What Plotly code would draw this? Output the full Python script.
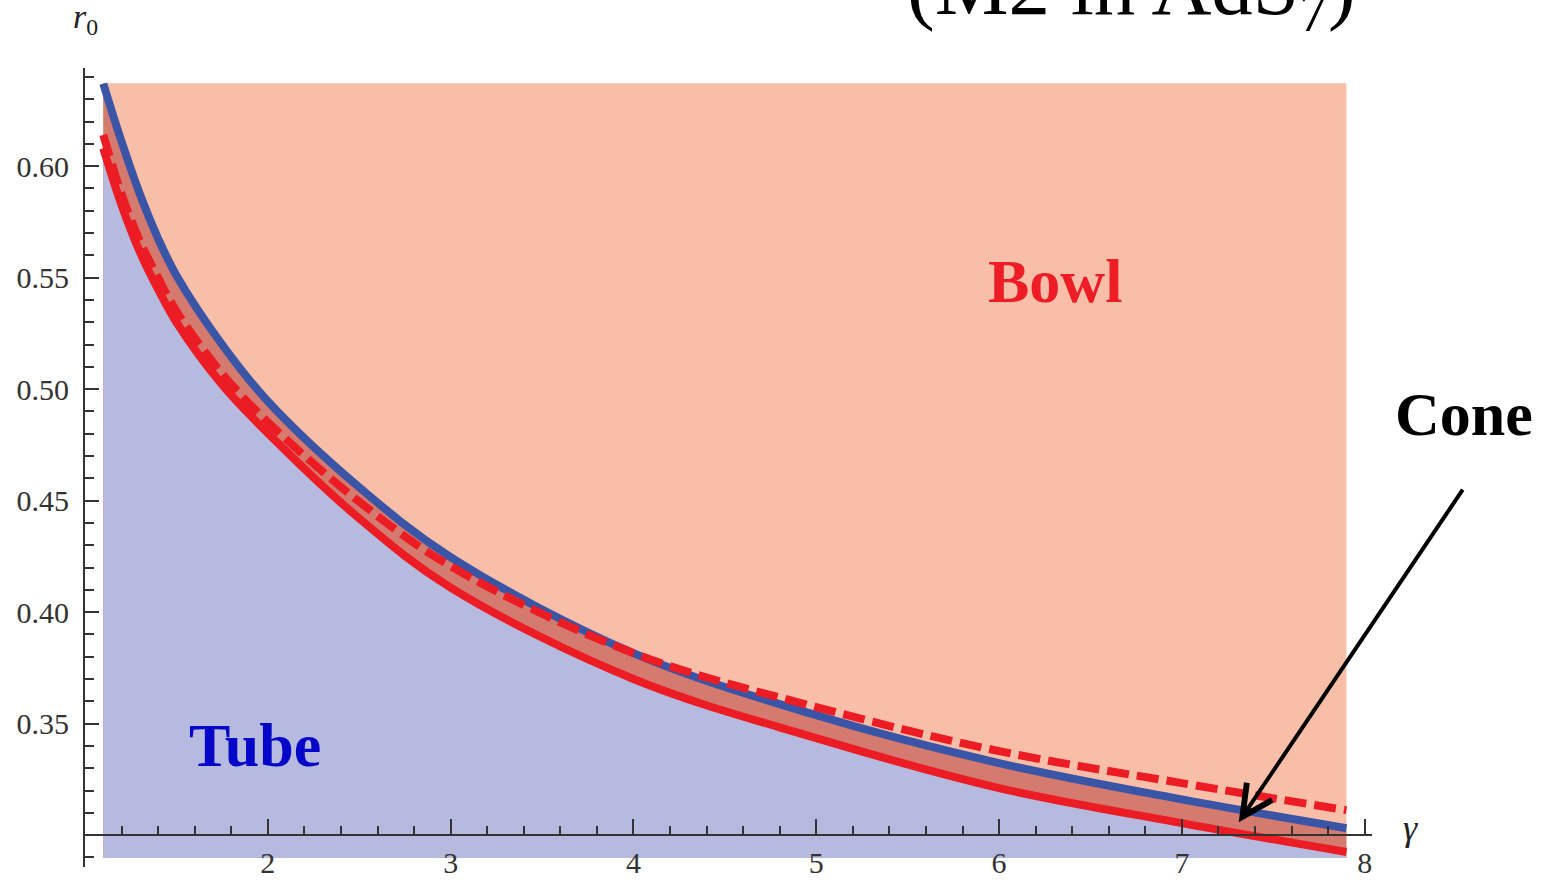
import plotly.graph_objects as go

# ---- data ----
gamma = [1.1, 1.2, 1.3, 1.4, 1.5, 1.75, 2.0, 2.5, 3.0, 4.0, 5.0, 6.0, 7.0, 7.9]
r_blue = [0.637, 0.611, 0.5875, 0.5675, 0.551, 0.520, 0.4946, 0.456, 0.4247, 0.3816, 0.3538, 0.3323, 0.3160, 0.3031]
r_red = [0.608, 0.5825, 0.5615, 0.5447, 0.530, 0.502, 0.4803, 0.442, 0.411, 0.3700, 0.3435, 0.3211, 0.3054, 0.2924]
r_red_dashed = [0.614, 0.5875, 0.5665, 0.550, 0.535, 0.507, 0.4852, 0.4495, 0.4206, 0.3816, 0.3574, 0.3377, 0.3233, 0.3112]

region_gamma = [1.1, 7.9]
region_r = [0.2897, 0.6372]

x_major = [2, 3, 4, 5, 6, 7, 8]
y_major = [0.35, 0.40, 0.45, 0.50, 0.55, 0.60]
y_labels = ["0.35", "0.40", "0.45", "0.50", "0.55", "0.60"]

x_range = [1.0, 8.04]
y_range = [0.2857, 0.644]
x_axis_at = 0.30

# ---- colours ----
c_bowl = "#f9bea8"
c_cone = "#d57a6e"
c_tube = "#b6badf"
c_blue = "#3a54a6"
c_red = "#ec1c24"

fig = go.Figure()

g0, g1 = region_gamma
b0, b1 = region_r

# bowl background rectangle
fig.add_trace(go.Scatter(x=[g0, g1, g1, g0, g0], y=[b0, b0, b1, b1, b0], fill="toself",
                         fillcolor=c_bowl, mode="lines", line=dict(width=0), hoverinfo="skip"))
# cone: below blue
fig.add_trace(go.Scatter(x=[g0, g1], y=[b0, b0], mode="lines", line=dict(width=0), hoverinfo="skip"))
fig.add_trace(go.Scatter(x=gamma, y=r_blue, mode="lines", fill="tonexty", fillcolor=c_cone,
                         line=dict(width=0, shape="spline"), hoverinfo="skip"))
# tube: below red
fig.add_trace(go.Scatter(x=[g0, g1], y=[b0, b0], mode="lines", line=dict(width=0), hoverinfo="skip"))
fig.add_trace(go.Scatter(x=gamma, y=r_red, mode="lines", fill="tonexty", fillcolor=c_tube,
                         line=dict(width=0, shape="spline"), hoverinfo="skip"))
# curves
fig.add_trace(go.Scatter(x=gamma, y=r_red, mode="lines",
                         line=dict(color=c_red, width=8, shape="spline"), hoverinfo="skip"))
fig.add_trace(go.Scatter(x=gamma, y=r_blue, mode="lines",
                         line=dict(color=c_blue, width=8, shape="spline"), hoverinfo="skip"))
fig.add_trace(go.Scatter(x=gamma, y=r_red_dashed, mode="lines",
                         line=dict(color=c_red, width=8, shape="spline", dash="22px,8px"), hoverinfo="skip"))

pos_x_axis = (x_axis_at - y_range[0]) / (y_range[1] - y_range[0])
tick_font = dict(family="Liberation Serif", size=30, color="#333333")
label_font = dict(family="Liberation Serif", size=62)

fig.update_layout(
    width=1544, height=881,
    margin=dict(l=85, r=172, t=68, b=14),
    plot_bgcolor="white", paper_bgcolor="white",
    showlegend=False,
    xaxis=dict(range=x_range, anchor="free", position=pos_x_axis, automargin=False,
               showgrid=False, zeroline=False, showline=True, linecolor="#333333", linewidth=2,
               tickmode="array", tickvals=x_major, ticktext=[str(v) for v in x_major],
               ticks="inside", ticklen=15, tickwidth=2, tickcolor="#333333",
               tickfont=tick_font, ticklabelstandoff=1,
               minor=dict(tickmode="linear", tick0=1.0, dtick=0.2, ticks="inside",
                          ticklen=8, tickwidth=2, tickcolor="#333333")),
    yaxis=dict(range=y_range, automargin=False, showgrid=False, zeroline=False, showline=True,
               linecolor="#333333", linewidth=2,
               tickmode="array", tickvals=y_major, ticktext=y_labels,
               ticks="inside", ticklen=14, tickwidth=2, tickcolor="#333333",
               tickfont=tick_font, ticklabelstandoff=8,
               minor=dict(tickmode="linear", tick0=0.0, dtick=0.01, ticks="inside",
                          ticklen=9, tickwidth=2, tickcolor="#333333")),
)

annotations = [
    dict(text="<b>Bowl</b>", x=6.306, y=0.5484, xref="x", yref="y", showarrow=False,
         font=dict(color="#ee1c25", **label_font)),
    dict(text="<b>Tube</b>", x=1.929, y=0.3404, xref="x", yref="y", showarrow=False,
         font=dict(color="#0606c8", **label_font)),
    dict(text="<b>Cone</b>", x=1.1267, y=0.567, xref="paper", yref="paper", xanchor="right",
         showarrow=False, font=dict(color="black", **label_font)),
    dict(text="", x=7.311, y=0.3058, xref="x", yref="y", showarrow=True,
         ax=225, ay=-334, axref="pixel", ayref="pixel",
         arrowhead=5, arrowsize=1.5, arrowwidth=4, arrowcolor="black"),
    dict(text="(M2 in AdS<sub>7</sub>)", x=0.8135, y=1.0275, xref="paper", yref="paper",
         xanchor="center", yanchor="bottom", showarrow=False,
         font=dict(family="Liberation Serif", size=83, color="black")),
    dict(text="<i>r</i><sub>0</sub>", x=-0.011, y=1.09, xref="paper", yref="paper",
         showarrow=False, font=dict(family="Liberation Serif", size=34, color="#222222")),
    dict(text="<i>γ</i>", x=1.0373, y=0.0213, xref="paper", yref="paper",
         showarrow=False, font=dict(family="Liberation Serif", size=36, color="#222222")),
]
fig.update_layout(annotations=annotations)

fig.write_html("out.html")
